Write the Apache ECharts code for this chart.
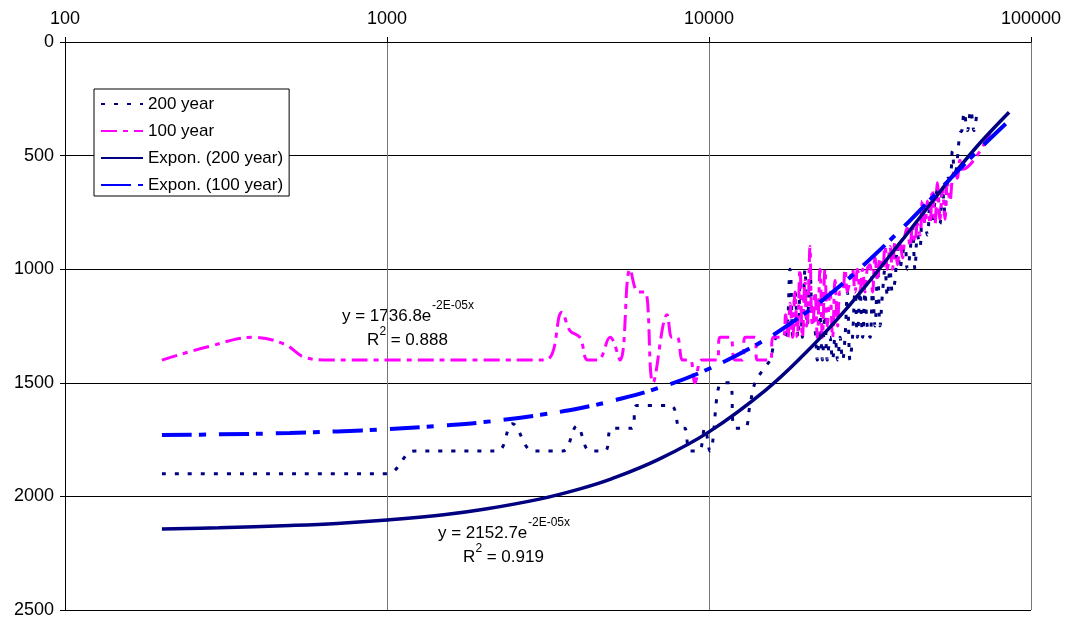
<!DOCTYPE html>
<html><head><meta charset="utf-8">
<script src="https://cdn.jsdelivr.net/npm/echarts@6/dist/echarts.min.js"></script>
<style>html,body{margin:0;padding:0;background:#fff}#c{width:1067px;height:621px}</style>
</head><body><div id="c"></div>
<script>
// ---- data ----
const xTickLabels = [100, 1000, 10000, 100000];
const yTickLabels = [0, 500, 1000, 1500, 2000, 2500];
const seriesNames = ['200 year', '100 year', 'Expon. (200 year)', 'Expon. (100 year)'];

const x200 = [200,400,700,1000,1220,1600,2200,2450,2840,3200,3520,3890,4270,4750,5000,5750,5970,7600,8130,8400,8730,9300,9700,10070,10930,11600,12040,12900,13400,13900,14930,15470,16300,17200,17850,18200,18500,18900,19200,19500,19870,20200,20600,20900,21300,21700,22100,22500,22900,23300,23760,24200,24630,25100,25520,26000,26450,26900,27410,27900,28410,28900,29440,30000,30510,31000,31620,32200,32770,33400,33970,34600,35200,35800,36480,37100,37810,38500,39190,39900,40610,41300,42090,42800,43630,44400,45210,46000,46860,47700,48560,49400,50340,51200,52170,53100,54060,55000,56030,57000,58000,59000,60200,61000,62000,63500,65000,66500,68000];
const y200 = [1900,1900,1900,1900,1800,1800,1800,1680,1800,1800,1800,1690,1800,1800,1700,1700,1600,1600,1700,1700,1800,1800,1700,1800,1500,1500,1700,1700,1600,1500,1430,1400,1300,1300,1000,1300,1100,1300,1050,1300,1000,1250,1000,1200,1250,1400,1200,1400,1200,1400,1300,1400,1300,1400,1300,1400,1300,1100,1400,1300,1100,1300,1100,1300,1100,1250,1300,1100,1250,1000,1250,1100,1000,1120,1000,1100,1050,900,1000,930,900,1000,930,800,1000,850,900,750,800,850,700,800,700,650,800,650,750,600,600,480,600,520,400,390,310,390,300,390,300];

const x100 = [200,280,384,480,560,665,1000,2000,3096,3496,3698,3972,4207,4519,4929,5297,5690,6025,6330,6700,7413,7680,7960,8300,8730,9050,9510,10590,10820,11620,12040,12700,12940,13900,14100,15500,15810,16980,17300,17600,17850,18200,18500,18800,19170,19500,19870,20100,20300,20590,20800,21000,21340,21700,22120,22500,22920,23300,23760,24200,24630,25100,25520,26000,26450,26900,27410,27900,28410,28900,29440,30000,30510,31000,31620,32200,32770,33400,33970,34600,35200,35800,36480,37100,37810,38500,39190,39900,40610,41300,42090,42800,43630,44400,45210,46000,46860,47700,48560,49400,50340,51200,52170,53100,54060,55000,56030,57000,58080,59000,60190,61300,74600];
const y100 = [1400,1340,1300,1330,1390,1400,1400,1400,1400,1190,1270,1300,1400,1400,1300,1400,1000,1100,1100,1500,1200,1300,1300,1400,1400,1500,1400,1400,1300,1300,1400,1400,1300,1300,1400,1400,1300,1300,1200,1300,1150,1300,1100,1300,1000,1300,1050,1250,1200,900,1200,1250,1100,1300,1000,1300,1000,1250,1100,1300,1050,1250,1100,1100,1000,1100,1050,1000,1100,1000,1100,1000,1100,1000,980,1100,950,1050,950,1000,900,1000,900,1000,880,980,880,950,850,820,900,820,880,800,850,700,800,700,800,650,800,620,780,640,780,620,700,600,560,600,520,560,400,400];

const trendX = [200,300,500,700,1000,1500,2000,3000,4000,5000,7000,10000,15000,20000,25000,30000,40000,50000,60000,70000,85500];
const trend200 = [2143,2138,2128,2119,2104,2081,2057,2011,1966,1922,1836,1716,1532,1367,1221,1090,868,692,551,439,309];
const trend100 = [1730,1727,1721,1714,1704,1688,1673,1641,1611,1580,1522,1438,1309,1191,1084,986,817,676,560,464,346];

const eq200 = ['y = 2152.7e', '-2E-05x', 'R', '2', ' = 0.919'];
const eq100 = ['y = 1736.8e', '-2E-05x', 'R', '2', ' = 0.888'];

// ---- chart ----
const zip = (a, b) => a.map((v, i) => [v, b[i]]);
const FF = '"Liberation Sans", Arial, sans-serif';
const chart = echarts.init(document.getElementById('c'), null, {renderer: 'canvas'});

function eqGraphic(parts, x, y) {
  const f17 = '17px ' + FF, f12 = '12px ' + FF;
  return [
    {type: 'text', x: x, y: y, style: {text: parts[0], font: f17, fill: '#000', verticalAlign: 'middle'}},
    {type: 'text', x: x + 90, y: y - 10, style: {text: parts[1], font: f12, fill: '#000', verticalAlign: 'middle'}},
    {type: 'text', x: x + 25, y: y + 24, style: {text: parts[2], font: f17, fill: '#000', verticalAlign: 'middle'}},
    {type: 'text', x: x + 37.5, y: y + 16, style: {text: parts[3], font: f12, fill: '#000', verticalAlign: 'middle'}},
    {type: 'text', x: x + 44, y: y + 24, style: {text: parts[4], font: f17, fill: '#000', verticalAlign: 'middle'}}
  ];
}

chart.setOption({
  animation: false,
  backgroundColor: '#fff',
  textStyle: {fontFamily: FF},
  grid: {left: 65, right: 36, top: 42, bottom: 11, containLabel: false},
  legend: {
    orient: 'vertical', left: 94, top: 89,
    data: seriesNames,
    itemWidth: 42, itemHeight: 18, itemGap: 9,
    padding: [6, 6, 2, 6],
    backgroundColor: '#fff', borderColor: '#000', borderWidth: 1, borderRadius: 0,
    itemStyle: {opacity: 0},
    textStyle: {fontSize: 17, color: '#000', fontFamily: FF, lineHeight: 18}
  },
  xAxis: {
    type: 'log', logBase: 10, min: xTickLabels[0], max: xTickLabels[xTickLabels.length - 1],
    position: 'top',
    axisLine: {show: true, lineStyle: {color: '#000', width: 1}},
    axisTick: {show: true, length: 5, inside: false, lineStyle: {color: '#000'}},
    minorTick: {show: false},
    axisLabel: {fontSize: 18, color: '#000', margin: 14, fontFamily: FF,
      formatter: v => String(Math.round(v))},
    splitLine: {show: true, lineStyle: {color: '#777', width: 1}}
  },
  yAxis: {
    type: 'value', inverse: true, min: yTickLabels[0], max: yTickLabels[yTickLabels.length - 1], interval: 500,
    axisLine: {show: true, lineStyle: {color: '#000', width: 1}},
    axisTick: {show: true, length: 5, inside: false, lineStyle: {color: '#000'}},
    axisLabel: {fontSize: 18, color: '#000', margin: 11, fontFamily: FF,
      formatter: v => String(Math.round(v))},
    splitLine: {show: true, lineStyle: {color: '#000', width: 1}}
  },
  series: [
    {name: seriesNames[0], type: 'line', data: zip(x200, y200), smooth: 0.4, symbol: 'none',
      lineStyle: {color: '#000080', width: 3, type: [4, 9], cap: 'butt'}, itemStyle: {color: '#000080'}},
    {name: seriesNames[1], type: 'line', data: zip(x100, y100), smooth: 0.4, symbol: 'none',
      lineStyle: {color: '#FF00FF', width: 3, type: [16, 6, 5, 6], cap: 'butt'}, itemStyle: {color: '#FF00FF'}},
    {name: seriesNames[2], type: 'line', data: zip(trendX, trend200), smooth: 0.4, symbol: 'none',
      lineStyle: {color: '#000080', width: 3.5}, itemStyle: {color: '#000080'}},
    {name: seriesNames[3], type: 'line', data: zip(trendX, trend100), smooth: 0.4, symbol: 'none',
      lineStyle: {color: '#0000FF', width: 4, type: [30, 7, 7, 13], cap: 'butt'}, itemStyle: {color: '#0000FF'}}
  ],
  graphic: [].concat(eqGraphic(eq100, 342, 316), eqGraphic(eq200, 438, 533))
});
</script>
</body></html>
